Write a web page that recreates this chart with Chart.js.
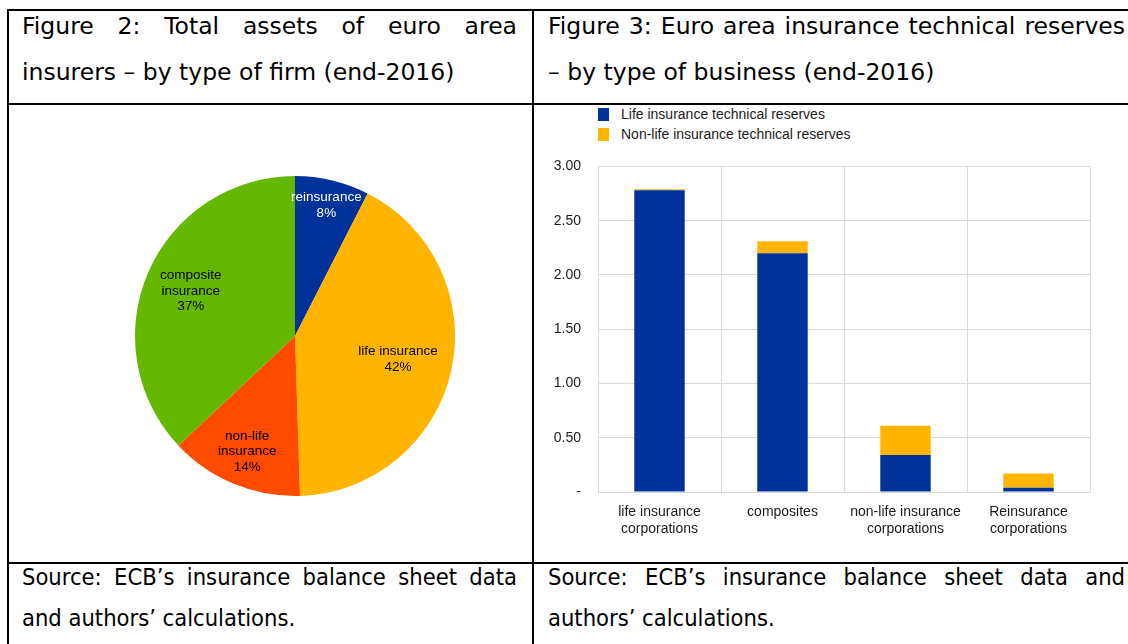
<!DOCTYPE html>
<html>
<head>
<meta charset="utf-8">
<script src="https://cdn.jsdelivr.net/npm/chart.js@4.4.1/dist/chart.umd.min.js"></script>
<style>
  html, body { margin:0; padding:0; background:#fff; }
  body { width:1128px; height:644px; overflow:hidden; position:relative; }
  .ln { position:absolute; background:#000; }
  .txt { position:absolute; color:#000; white-space:nowrap; }
  .hd { font-family:"DejaVu Sans", sans-serif; font-size:23.5px; }
  .src { font-family:"DejaVu Sans Condensed", "DejaVu Sans", sans-serif; font-size:23.5px; font-stretch:condensed; }
  .just { text-align:justify; text-align-last:justify; }
  .legend { position:absolute; left:598px; top:104px; font-family:"Liberation Sans", Arial, sans-serif; font-size:14px; color:#1a1a1a; }
  .legend .row { height:20px; display:flex; align-items:center; }
  .legend .box { width:11px; height:13px; margin-right:12px; }
</style>
</head>
<body>
<!-- table lines -->
<div class="ln" style="left:7px;top:9px;width:1200px;height:2px"></div>
<div class="ln" style="left:7px;top:9px;width:2px;height:700px"></div>
<div class="ln" style="left:532px;top:9px;width:2px;height:700px"></div>
<div class="ln" style="left:7px;top:103px;width:1200px;height:2px"></div>
<div class="ln" style="left:7px;top:562px;width:1200px;height:2px"></div>

<!-- headers -->
<div class="txt hd just" style="left:22px;top:4px;width:495px;line-height:44px;">Figure 2: Total assets of euro area</div>
<div class="txt hd" style="left:22px;top:50px;line-height:44px;">insurers – by type of firm (end-2016)</div>
<div class="txt hd just" style="left:548px;top:4px;width:577px;line-height:44px;">Figure 3: Euro area insurance technical reserves</div>
<div class="txt hd" style="left:548px;top:50px;line-height:44px;">– by type of business (end-2016)</div>

<!-- sources -->
<div class="txt src just" style="left:22px;top:557px;width:495px;line-height:40px;">Source: ECB’s insurance balance sheet data</div>
<div class="txt src" style="left:22px;top:598px;line-height:40px;">and authors’ calculations.</div>
<div class="txt src just" style="left:548px;top:557px;width:577px;line-height:40px;">Source: ECB’s insurance balance sheet data and</div>
<div class="txt src" style="left:548px;top:598px;line-height:40px;">authors’ calculations.</div>

<canvas id="pie" width="330" height="330" style="position:absolute;left:130px;top:171px;"></canvas>
<div class="legend" id="legend"></div>
<canvas id="bar" width="588" height="401" style="position:absolute;left:540px;top:141px;"></canvas>

<script>
// ---- Figure 2 data (pie) ----
const pieCategories = ['reinsurance', 'life insurance', 'non-life insurance', 'composite insurance'];
const pieLabelLines = [['reinsurance'], ['life insurance'], ['non-life', 'insurance'], ['composite', 'insurance']];
const pieValues = [7.5, 42.0, 13.5, 37.0];
const piePercentLabels = ['8%', '42%', '14%', '37%'];
const pieColors = ['#003299', '#FFB400', '#FF4B00', '#65B800'];
const pieLabelColors = ['#ffffff', '#000000', '#000000', '#000000'];
const pieLabelRadius = [0.84, 0.66, 0.78, 0.71];

// ---- Figure 3 data (stacked bars) ----
const barCategories = [['life insurance', 'corporations'], ['composites'], ['non-life insurance', 'corporations'], ['Reinsurance', 'corporations']];
const lifeReserves = [2.78, 2.20, 0.34, 0.04];
const nonLifeReserves = [0.01, 0.11, 0.27, 0.13];
const seriesNames = ['Life insurance technical reserves', 'Non-life insurance technical reserves'];
const seriesColors = ['#003299', '#FFB400'];

const FONT = '"Liberation Sans", Arial, sans-serif';

const pieLabelPlugin = {
  id: 'pieLabels',
  afterDatasetsDraw(chart) {
    const meta = chart.getDatasetMeta(0);
    const ctx = chart.ctx;
    meta.data.forEach((arc, i) => {
      const p = arc.getProps(['x', 'y', 'startAngle', 'endAngle', 'outerRadius'], true);
      const mid = (p.startAngle + p.endAngle) / 2;
      const r = p.outerRadius * pieLabelRadius[i];
      const lx = p.x + Math.cos(mid) * r;
      const ly = p.y + Math.sin(mid) * r;
      const lines = [...pieLabelLines[i], piePercentLabels[i]];
      ctx.save();
      ctx.font = '13.5px ' + FONT;
      ctx.fillStyle = pieLabelColors[i];
      ctx.textAlign = 'center';
      ctx.textBaseline = 'middle';
      const lh = 15.5;
      lines.forEach((t, j) => ctx.fillText(t, lx, ly + (j - (lines.length - 1) / 2) * lh));
      ctx.restore();
    });
  }
};

new Chart(document.getElementById('pie'), {
  type: 'pie',
  data: {
    labels: pieCategories,
    datasets: [{ data: pieValues, backgroundColor: pieColors, borderWidth: 0 }]
  },
  options: {
    responsive: false,
    animation: false,
    layout: { padding: 5 },
    plugins: { legend: { display: false }, tooltip: { enabled: false } }
  },
  plugins: [pieLabelPlugin]
});

// HTML legend built from series
const legendEl = document.getElementById('legend');
seriesNames.forEach((n, i) => {
  const row = document.createElement('div');
  row.className = 'row';
  const b = document.createElement('div');
  b.className = 'box';
  b.style.background = seriesColors[i];
  const t = document.createElement('span');
  t.textContent = n;
  row.appendChild(b); row.appendChild(t);
  legendEl.appendChild(row);
});

new Chart(document.getElementById('bar'), {
  type: 'bar',
  data: {
    labels: barCategories,
    datasets: [
      { label: seriesNames[0], data: lifeReserves, backgroundColor: seriesColors[0], barPercentage: 0.41, categoryPercentage: 1 },
      { label: seriesNames[1], data: nonLifeReserves, backgroundColor: seriesColors[1], barPercentage: 0.41, categoryPercentage: 1 }
    ]
  },
  options: {
    responsive: false,
    animation: false,
    layout: { padding: { left: 0, right: 38, top: 0, bottom: 0 } },
    plugins: { legend: { display: false }, tooltip: { enabled: false } },
    scales: {
      x: {
        stacked: true,
        grid: { color: '#d9d9d9', offset: true, drawTicks: false },
        border: { color: '#d9d9d9' },
        ticks: { font: { family: FONT, size: 14, lineHeight: 1.21 }, color: '#1a1a1a', padding: 12, maxRotation: 0, autoSkip: false },
        afterFit(s) { s.height = 50; }
      },
      y: {
        stacked: true,
        min: 0, max: 3,
        grid: { color: '#d9d9d9', drawTicks: false },
        border: { color: '#d9d9d9' },
        ticks: {
          stepSize: 0.5,
          font: { family: FONT, size: 14 },
          color: '#1a1a1a',
          padding: 17,
          callback: v => (v === 0 ? '-' : v.toFixed(2))
        },
        afterFit(s) { s.width = 58; }
      }
    }
  }
});
</script>
</body>
</html>
